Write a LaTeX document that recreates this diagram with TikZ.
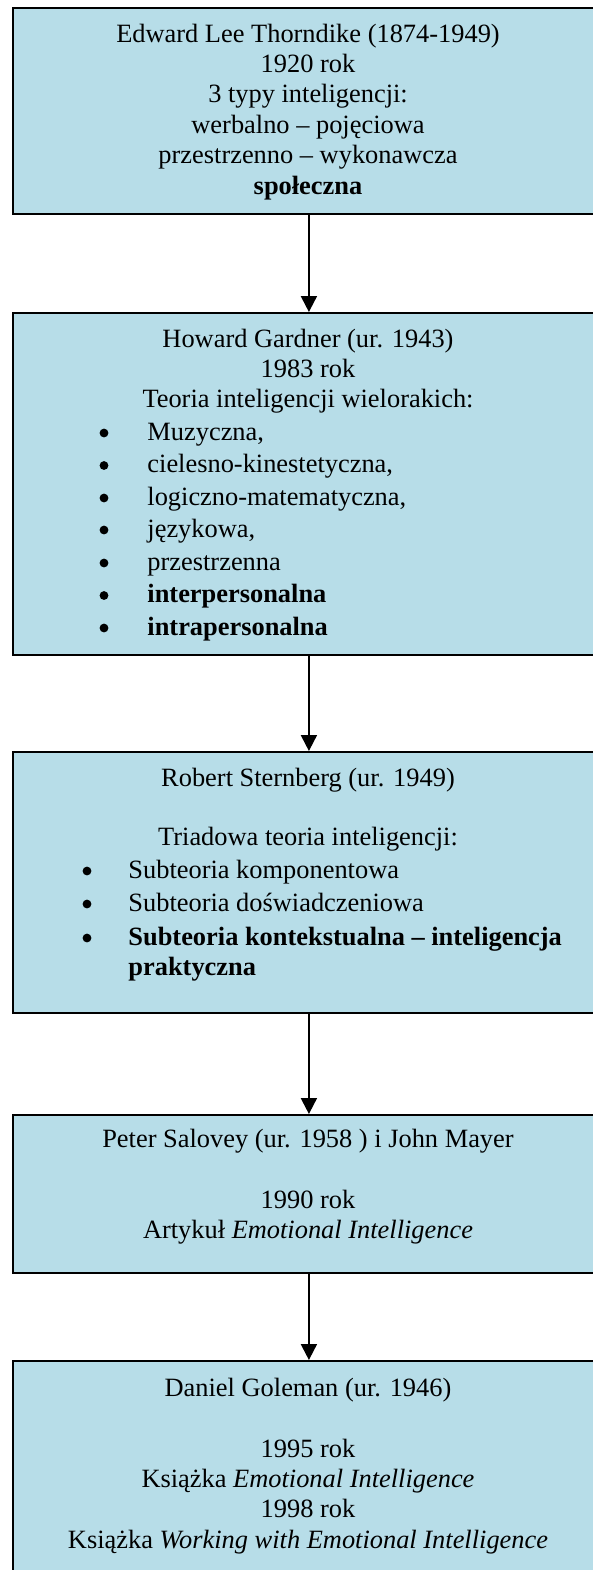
\documentclass[tikz,border=0pt]{standalone}
\usepackage{fontspec}
\setmainfont{Liberation Serif}
\usetikzlibrary{arrows.meta}
\definecolor{boxblue}{RGB}{183,221,232}
\begin{document}
\begin{tikzpicture}[x=0.4545pt,y=-0.4545pt,
  box/.style={draw=black, line width=0.8pt, fill=boxblue, rectangle, inner sep=0pt,
    anchor=north west, minimum width=269.1pt},
  txt/.style={anchor=base, inner sep=0pt, font=\fontsize{12}{14}\selectfont},
  ltxt/.style={anchor=base west, inner sep=0pt, font=\fontsize{12}{14}\selectfont},
  bul/.style={circle, fill=black, inner sep=0pt, minimum size=4pt},
  conn/.style={line width=0.9pt, -{Triangle[length=7.2pt,width=7.2pt]}}]
\useasboundingbox (0,0) rectangle (593,1570);
% boxes
\node[box, minimum height=93.64pt] (b1) at (12,7) {};
\node[box, minimum height=155.45pt] (b2) at (12,312) {};
\node[box, minimum height=118.64pt] (b3) at (12,751) {};
\node[box, minimum height=71.82pt] (b4) at (12,1114) {};
\node[box, minimum height=109pt] (b5) at (12,1360) {};
% connectors
\draw[conn] (b1.south) -- (b2.north);
\draw[conn] (b2.south) -- (b3.north);
\draw[conn] (b3.south) -- (b4.north);
\draw[conn] (b4.south) -- (b5.north);
% box 1
\node[txt] (t11) at (308,42) {Edward Lee Thorndike (1874-1949)};
\node[txt] (t12) at (308,72.4) {1920 rok};
\node[txt] (t13) at (308,102.8) {3 typy inteligencji:};
\node[txt] (t14) at (308,133.2) {werbalno – pojęciowa};
\node[txt] (t15) at (308,163.6) {przestrzenno – wykonawcza};
\node[txt] (t16) at (308,194) {\bfseries społeczna};
% box 2
\node[txt] (t21) at (308,347) {Howard Gardner (ur. 1943)};
\node[txt] (t22) at (308,377.4) {1983 rok};
\node[txt] (t23) at (308,407.8) {Teoria inteligencji wielorakich:};
\foreach \yy/\tt [count=\i] in {440/{Muzyczna,}, 472.5/{cielesno-kinestetyczna,}, 505/{logiczno-matematyczna,}, 537/{językowa,}, 570/{przestrzenna}, 602.5/{\bfseries interpersonalna}, 635/{\bfseries intrapersonalna}}{
  \node[bul] (bb2\i) at (104,\yy-7) {};
  \node[ltxt] (l2\i) at (147,\yy) {\tt};
}
% box 3
\node[txt] (t31) at (308,786) {Robert Sternberg (ur. 1949)};
\node[txt] (t32) at (308,845) {Triadowa teoria inteligencji:};
\node[bul] (bb31) at (87,871) {};
\node[ltxt] (l31) at (128,878) {Subteoria komponentowa};
\node[bul] (bb32) at (87,904) {};
\node[ltxt] (l32) at (128,911) {Subteoria doświadczeniowa};
\node[bul] (bb33) at (87,938) {};
\node[ltxt] (l33) at (128,945) {\bfseries Subteoria kontekstualna – inteligencja};
\node[ltxt] (l34) at (128,975) {\bfseries praktyczna};
% box 4
\node[txt] (t41) at (308,1147) {Peter Salovey (ur. 1958 ) i John Mayer};
\node[txt] (t42) at (308,1208) {1990 rok};
\node[txt] (t43) at (308,1238.4) {Artykuł \textit{Emotional Intelligence}};
% box 5
\node[txt] (t51) at (308,1396) {Daniel Goleman (ur. 1946)};
\node[txt] (t52) at (308,1457) {1995 rok};
\node[txt] (t53) at (308,1487.4) {Książka \textit{Emotional Intelligence}};
\node[txt] (t54) at (308,1517.8) {1998 rok};
\node[txt] (t55) at (308,1548) {Książka \textit{Working with Emotional Intelligence}};
\end{tikzpicture}
\end{document}
